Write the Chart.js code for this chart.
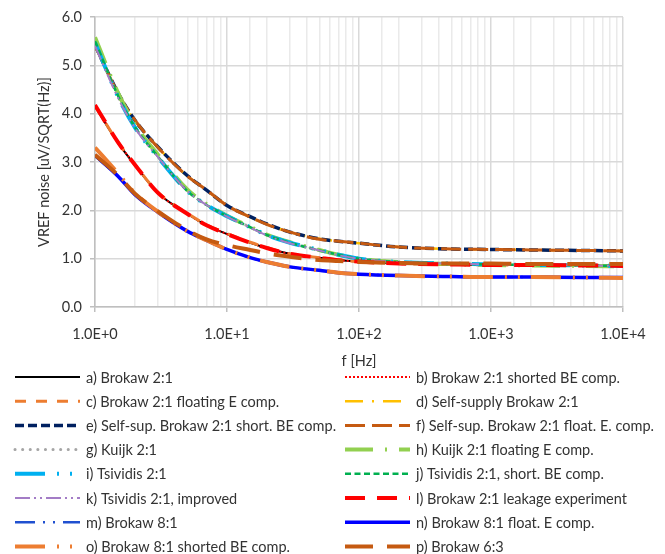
<!DOCTYPE html>
<html>
<head>
<meta charset="utf-8">
<script src="https://cdn.jsdelivr.net/npm/chart.js@4.4.1/dist/chart.umd.min.js"></script>
<style>
  html, body { margin: 0; padding: 0; background: #fff; }
  #wrap { width: 665px; height: 554px; }
</style>
</head>
<body>
<div id="wrap"><canvas id="c" width="665" height="554"></canvas></div>
<script>
// frequencies [Hz]
const freq = [1, 1.5, 2, 3, 5, 7, 10, 15, 20, 30, 50, 70, 100, 200, 500, 1000, 2000, 5000, 10000];

// VREF noise [uV/sqrt(Hz)]
const brokaw21        = [4.15, 3.39, 2.94, 2.36, 1.93, 1.69, 1.51, 1.33, 1.22, 1.10, 1.02, 0.97, 0.94, 0.90, 0.88, 0.87, 0.87, 0.86, 0.85];
const brokaw21Short   = [4.17, 3.40, 2.95, 2.36, 1.93, 1.69, 1.51, 1.33, 1.22, 1.10, 1.02, 0.97, 0.94, 0.90, 0.88, 0.87, 0.87, 0.86, 0.85];
const brokaw21Float   = [4.16, 3.40, 2.95, 2.37, 1.94, 1.70, 1.52, 1.34, 1.23, 1.10, 1.02, 0.97, 0.94, 0.90, 0.88, 0.87, 0.87, 0.86, 0.86];
const selfSupply      = [5.40, 4.40, 3.86, 3.30, 2.71, 2.42, 2.10, 1.86, 1.71, 1.55, 1.41, 1.36, 1.32, 1.24, 1.20, 1.19, 1.18, 1.17, 1.16];
const selfSupShort    = [5.42, 4.42, 3.87, 3.31, 2.72, 2.42, 2.10, 1.87, 1.72, 1.55, 1.41, 1.36, 1.32, 1.24, 1.20, 1.19, 1.18, 1.17, 1.16];
const selfSupFloat    = [5.41, 4.41, 3.87, 3.30, 2.71, 2.42, 2.10, 1.86, 1.71, 1.55, 1.40, 1.36, 1.32, 1.24, 1.20, 1.19, 1.18, 1.17, 1.16];
const kuijk           = [5.45, 4.35, 3.73, 3.12, 2.41, 2.12, 1.88, 1.65, 1.49, 1.33, 1.18, 1.08, 1.01, 0.93, 0.90, 0.88, 0.87, 0.86, 0.85];
const kuijkFloat      = [5.58, 4.42, 3.78, 3.15, 2.43, 2.13, 1.89, 1.66, 1.50, 1.34, 1.18, 1.08, 1.00, 0.93, 0.89, 0.87, 0.86, 0.85, 0.84];
const tsividis        = [5.47, 4.34, 3.72, 3.10, 2.40, 2.11, 1.88, 1.65, 1.49, 1.33, 1.18, 1.08, 1.00, 0.93, 0.90, 0.88, 0.87, 0.86, 0.85];
const tsividisShort   = [5.50, 4.36, 3.73, 3.11, 2.40, 2.11, 1.88, 1.65, 1.49, 1.33, 1.17, 1.08, 1.00, 0.93, 0.90, 0.88, 0.87, 0.86, 0.85];
const tsividisImpr    = [5.40, 4.32, 3.71, 3.10, 2.40, 2.11, 1.87, 1.64, 1.48, 1.32, 1.17, 1.07, 1.00, 0.93, 0.90, 0.88, 0.87, 0.86, 0.85];
const leakage         = [4.18, 3.40, 2.95, 2.36, 1.93, 1.69, 1.51, 1.33, 1.22, 1.10, 1.02, 0.97, 0.94, 0.90, 0.88, 0.87, 0.87, 0.86, 0.85];
const brokaw81        = [3.12, 2.70, 2.33, 1.96, 1.57, 1.38, 1.19, 1.02, 0.93, 0.83, 0.76, 0.71, 0.68, 0.65, 0.63, 0.62, 0.62, 0.61, 0.61];
const brokaw81Float   = [3.14, 2.70, 2.33, 1.96, 1.57, 1.38, 1.19, 1.02, 0.93, 0.83, 0.76, 0.71, 0.68, 0.65, 0.63, 0.62, 0.62, 0.61, 0.61];
const brokaw81Short   = [3.30, 2.76, 2.36, 1.97, 1.57, 1.38, 1.19, 1.02, 0.93, 0.83, 0.76, 0.71, 0.68, 0.65, 0.63, 0.62, 0.62, 0.61, 0.60];
const brokaw63        = [3.15, 2.72, 2.35, 1.98, 1.59, 1.40, 1.28, 1.18, 1.11, 1.04, 0.97, 0.95, 0.93, 0.91, 0.90, 0.90, 0.89, 0.89, 0.89];

const seriesNames = [
  "a) Brokaw 2:1", "b) Brokaw 2:1 shorted BE comp.",
  "c) Brokaw 2:1 floating E comp.", "d) Self-supply Brokaw 2:1",
  "e) Self-sup. Brokaw 2:1 short. BE comp.", "f) Self-sup. Brokaw 2:1 float. E. comp.",
  "g) Kuijk 2:1", "h) Kuijk 2:1 floating E comp.",
  "i) Tsividis 2:1", "j) Tsividis 2:1, short. BE comp.",
  "k) Tsividis 2:1, improved", "l) Brokaw 2:1 leakage experiment",
  "m) Brokaw 8:1", "n) Brokaw 8:1 float. E comp.",
  "o) Brokaw 8:1 shorted BE comp.", "p) Brokaw 6:3"
];
const seriesValues = [
  brokaw21, brokaw21Short, brokaw21Float, selfSupply, selfSupShort, selfSupFloat,
  kuijk, kuijkFloat, tsividis, tsividisShort, tsividisImpr, leakage,
  brokaw81, brokaw81Float, brokaw81Short, brokaw63
];

// line styles (colour, width, dash, cap)
const styles = [
  { color: "#000000", width: 2,   dash: [] },
  { color: "#FF0000", width: 2,   dash: [2, 2] },
  { color: "#ED7D31", width: 3,   dash: [11, 10] },
  { color: "#FFC000", width: 2.5, dash: [18, 9, 2, 9] },
  { color: "#002060", width: 3.5, dash: [9, 4] },
  { color: "#C55A11", width: 3,   dash: [20, 7] },
  { color: "#A5A5A5", width: 3,   dash: [0.1, 7.5], cap: "round" },
  { color: "#92D050", width: 4,   dash: [28, 12, 2, 12] },
  { color: "#00B0F0", width: 4,   dash: [30, 12, 2, 11, 2, 11] },
  { color: "#00B050", width: 2.5, dash: [6, 3.5] },
  { color: "#A37CC6", width: 2,   dash: [15, 4, 2, 4, 2, 4] },
  { color: "#FF0000", width: 4,   dash: [20, 12] },
  { color: "#2050D0", width: 2.5, dash: [20, 8, 2, 8, 2, 8] },
  { color: "#0000FF", width: 3.5, dash: [] },
  { color: "#ED7D31", width: 4,   dash: [30, 12, 2, 11, 2, 11] },
  { color: "#C55A11", width: 4,   dash: [28, 14] }
];

const FONT = "Lato, 'Open Sans', sans-serif";
const FS = 14.5;
const TXT = "#333333";

const datasets = seriesValues.map((vals, i) => ({
  label: seriesNames[i],
  data: vals.map((v, k) => ({ x: freq[k], y: v })),
  borderColor: styles[i].color,
  borderWidth: styles[i].width,
  borderDash: styles[i].dash,
  borderCapStyle: styles[i].cap || "butt",
  pointRadius: 0,
  fill: false,
  cubicInterpolationMode: "monotone",
  order: 16 - i
}));

const isPow10 = (v) => Math.abs(Math.log10(v) - Math.round(Math.log10(v))) < 1e-9;

// legend in two columns below the plot
const legendPlugin = {
  id: "twoColLegend",
  afterDraw(chart) {
    const ctx = chart.ctx;
    ctx.save();
    ctx.font = FS + "px " + FONT;
    ctx.textBaseline = "middle";
    ctx.fillStyle = TXT;
    seriesNames.forEach((name, i) => {
      const col = i % 2, row = Math.floor(i / 2);
      const x0 = col ? 345 : 15;
      const y = 377 + row * 24.2;
      const s = styles[i];
      ctx.beginPath();
      ctx.strokeStyle = s.color;
      ctx.lineWidth = s.width;
      ctx.lineCap = s.cap || "butt";
      ctx.setLineDash(s.dash);
      ctx.moveTo(x0, y);
      ctx.lineTo(x0 + 65, y);
      ctx.stroke();
      ctx.setLineDash([]);
      ctx.fillText(name, x0 + 71, y + 1);
    });
    ctx.restore();
  }
};

new Chart(document.getElementById("c").getContext("2d"), {
  type: "line",
  data: { datasets },
  plugins: [legendPlugin],
  options: {
    responsive: false,
    animation: false,
    devicePixelRatio: 1,
    layout: { padding: { left: 36, right: 42, top: 17, bottom: 184 } },
    plugins: { legend: { display: false }, tooltip: { enabled: false } },
    scales: {
      x: {
        type: "logarithmic",
        min: 1,
        max: 10000,
        afterFit: (s) => { s.height = 63; },
        border: { color: "#BFBFBF", width: 1.5 },
        grid: {
          color: (c) => (c.tick && isPow10(c.tick.value) ? "#D9D9D9" : "#EAEAEA"),
          lineWidth: 1.5,
          tickColor: (c) => (c.tick && isPow10(c.tick.value) ? "#BFBFBF" : "rgba(0,0,0,0)"),
          tickLength: 5
        },
        ticks: {
          autoSkip: false,
          maxRotation: 0,
          padding: 14,
          color: TXT,
          font: { size: FS, family: FONT },
          callback: (v) => (isPow10(v) ? "1.0E+" + Math.round(Math.log10(v)) : "")
        },
        title: {
          display: true,
          text: "f [Hz]",
          color: TXT,
          font: { size: FS, family: FONT },
          padding: { top: 0, bottom: 0 }
        }
      },
      y: {
        min: 0,
        max: 6,
        afterFit: (s) => { s.width = 59; },
        border: { color: "#BFBFBF", width: 1.5 },
        grid: { color: "#D9D9D9", lineWidth: 1.5, tickColor: "#BFBFBF", tickLength: 5 },
        ticks: {
          stepSize: 1,
          padding: 8,
          color: TXT,
          font: { size: FS, family: FONT },
          callback: (v) => Number(v).toFixed(1)
        },
        title: {
          display: true,
          text: "VREF noise [uV/SQRT(Hz)]",
          color: TXT,
          font: { size: FS, family: FONT },
          padding: { top: 0, bottom: 0 }
        }
      }
    }
  }
});
</script>
</body>
</html>
